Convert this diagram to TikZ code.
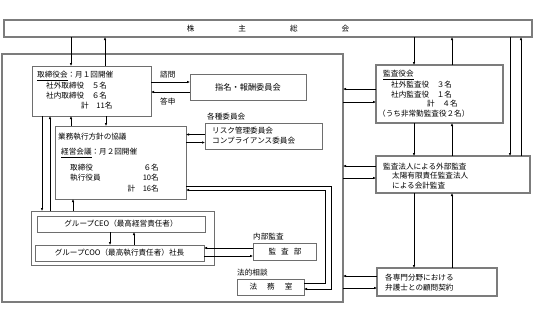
\documentclass[tikz,border=0pt]{standalone}
\usepackage{fontspec}
\setmainfont{Noto Sans CJK JP}
\usetikzlibrary{arrows.meta}
\definecolor{boxgray}{HTML}{6E6E6E}
\definecolor{thickgray}{HTML}{7C7C7C}
\begin{document}
\begin{tikzpicture}[x=1pt,y=-1pt,
  box/.style={draw=boxgray, line width=0.9pt, inner sep=0pt, outer sep=0pt, anchor=north west},
  thick box/.style={draw=thickgray, line width=1.9pt, inner sep=0pt, outer sep=0pt, anchor=north west},
  txt/.style={inner sep=0pt, anchor=west},
  arr/.style={-{Latex[length=3pt,width=2.6pt]}, line width=0.6pt, black},
  font=\fontsize{7.6}{9}\selectfont]
\useasboundingbox (0,0) rectangle (544,317);

% boxes
\node[thick box, minimum width=528, minimum height=17] (top) at (4,20) {};
\node (toptxt) at (268,28.5) {株\hspace{44pt}主\hspace{44pt}総\hspace{44pt}会};
\node[thick box, minimum width=341, minimum height=248] (big) at (2,54) {};
\node[box, minimum width=119, minimum height=50] (tori) at (32,66) {};
\node[box, minimum width=116, minimum height=26] (shimei) at (190,74) {};
\node (shimeitxt) at (248,87) {\fontsize{8.2}{9}\selectfont 指名・報酬委員会};
\node[box, minimum width=117, minimum height=26] (risk) at (205,123) {};
\node[box, minimum width=131, minimum height=73] (gyomu) at (55,126) {};
\node[box, minimum width=183, minimum height=54] (group) at (31,211) {};
\node[box, minimum width=168, minimum height=16] (ceo) at (37,216) {};
\node (ceotxt) at (121,224) {グループCEO（最高経営責任者）};
\node[box, minimum width=169, minimum height=16] (coo) at (35,245) {};
\node (cootxt) at (119.5,253) {グループCOO（最高執行責任者）社長};
\node[box, minimum width=63, minimum height=17] (kansabu) at (253,243) {};
\node (kansabutxt) at (285,251.5) {監\hspace{5pt}査\hspace{5pt}部};
\node[box, minimum width=67, minimum height=16] (homu) at (237,279) {};
\node (homutxt) at (271,287) {法\hspace{10pt}務\hspace{10pt}室};
\node[thick box, minimum width=127, minimum height=58] (kansayaku) at (376,65) {};
\node[thick box, minimum width=154, minimum height=37] (hojin) at (376,156) {};
\node[thick box, minimum width=120, minimum height=28] (bengo) at (377,268) {};

% texts
\node[txt] (t1) at (37,76) {\underline{取締役会}：月１回開催};
\node[txt] (t2) at (46,86) {社外取締役　５名};
\node[txt] (t3) at (46,96) {社内取締役　６名};
\node[txt] (t4) at (81,105.5) {計　11名};
\node[txt] (l1) at (160,75) {諮問};
\node[txt] (l2) at (160,101.5) {答申};
\node[txt] (l3) at (207,117) {各種委員会};
\node[txt] (r1) at (212,131) {リスク管理委員会};
\node[txt] (r2) at (212,141) {コンプライアンス委員会};
\node[txt] (g1) at (58,137) {業務執行方針の協議};
\node[txt] (g2) at (61,153) {\underline{経営会議}：月２回開催};
\node[txt] (g3) at (70,168) {取締役};
\node[txt,anchor=east] (g3n) at (159,168) {６名};
\node[txt] (g4) at (70,178) {執行役員};
\node[txt,anchor=east] (g4n) at (159,178) {10名};
\node[txt,anchor=east] (g5n) at (159,189) {計　16名};
\node[txt] (l4) at (253,237) {内部監査};
\node[txt] (l5) at (237,273) {法的相談};
\node[txt] (k1) at (383,75) {\underline{監査役会}};
\node[txt] (k2) at (391,84.5) {社外監査役　３名};
\node[txt] (k3) at (391,94.5) {社内監査役　１名};
\node[txt] (k4) at (427,104) {計　４名};
\node[txt] (k5) at (378,113.5) {（うち非常勤監査役２名）};
\node[txt] (h1) at (383,166.5) {監査法人による外部監査};
\node[txt] (h2) at (392,176) {太陽有限責任監査法人};
\node[txt] (h3) at (392,185.5) {による会計監査};
\node[txt] (b1) at (385,278) {各専門分野における};
\node[txt] (b2) at (385,287.5) {弁護士との顧問契約};

% connectors
\draw[arr] (71,0 |- top.south) -- (71,0 |- tori.north);
\draw[arr] (105,0 |- tori.north) -- (105,0 |- top.south);
\draw[arr] (tori.east |- 0,82) -- (shimei.west |- 0,82);
\draw[arr] (shimei.west |- 0,92) -- (tori.east |- 0,92);
\draw[arr] (71,0 |- gyomu.north) -- (71,0 |- tori.south);
\draw[arr] (106,0 |- tori.south) -- (106,0 |- gyomu.north);
\draw[arr] (42,0 |- tori.south) -- (42,0 |- group.north);
\draw[arr] (50,0 |- group.north) -- (50,0 |- tori.south);
\draw[arr] (73,0 |- group.north) -- (73,0 |- gyomu.south);
\draw[arr] (risk.west |- 0,134.5) -- (gyomu.east |- 0,134.5);
\draw[arr] (gyomu.east |- 0,142.5) -- (risk.west |- 0,142.5);
\draw[arr] (110,0 |- ceo.south) -- (110,0 |- coo.north);
\draw[arr] (134,0 |- coo.north) -- (134,0 |- ceo.south);
\draw[arr] (kansabu.west |- 0,248) -- (coo.east |- 0,248);
\draw[arr] (coo.east |- 0,256) -- (kansabu.west |- 0,256);
\draw[arr] (homu.east |- 0,283) -- (325,283) -- (325,190) -- (gyomu.east |- 0,190);
\draw[arr] (gyomu.east |- 0,186) -- (331,186) -- (331,289) -- (homu.east |- 0,289);

\draw[arr] (kansayaku.west |- 0,89) -- (big.east |- 0,89);
\draw[arr] (big.east |- 0,102) -- (kansayaku.west |- 0,102);
\draw[arr] (414,0 |- top.south) -- (414,0 |- kansayaku.north);
\draw[arr] (452,0 |- kansayaku.north) -- (452,0 |- top.south);
\draw[arr] (414,0 |- kansayaku.south) -- (414,0 |- hojin.north);
\draw[arr] (452,0 |- hojin.north) -- (452,0 |- kansayaku.south);
\draw[arr] (510,0 |- top.south) -- (510,0 |- hojin.north);
\draw[arr] (521,0 |- hojin.north) -- (521,0 |- top.south);
\draw[arr] (hojin.west |- 0,166) -- (big.east |- 0,166);
\draw[arr] (big.east |- 0,178) -- (hojin.west |- 0,178);
\draw[arr] (414,0 |- hojin.south) -- (414,0 |- bengo.north);
\draw[arr] (452,0 |- bengo.north) -- (452,0 |- hojin.south);
\draw[arr] (bengo.west |- 0,276) -- (big.east |- 0,276);
\draw[arr] (big.east |- 0,288) -- (bengo.west |- 0,288);
\end{tikzpicture}
\end{document}
